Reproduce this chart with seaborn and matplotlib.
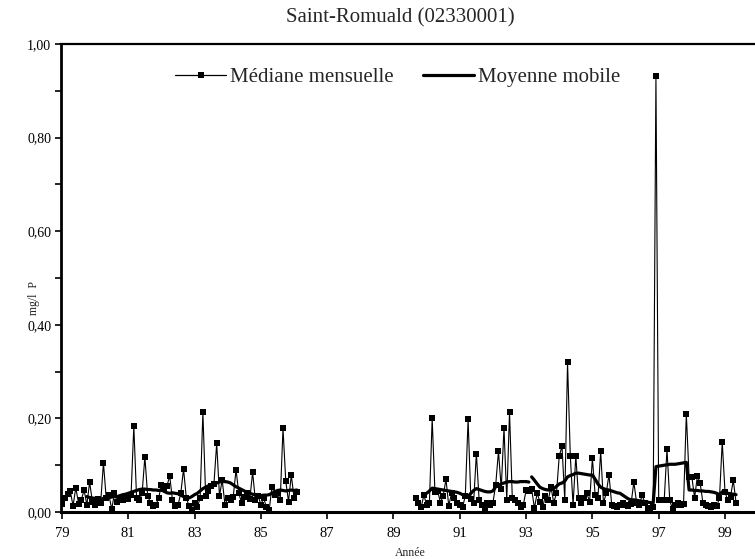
import numpy as np
import pandas as pd
import matplotlib
matplotlib.use("Agg")
import matplotlib.pyplot as plt
from matplotlib.lines import Line2D
from matplotlib.ticker import FuncFormatter, MultipleLocator
import seaborn as sns

# Monthly phosphorus medians (mg/l P), first sampling period: Jan 1979 onwards
start_a = 1979.0
median_a = [
    0.017, 0.030, 0.038, 0.045, 0.013, 0.052, 0.018, 0.026, 0.047, 0.015, 0.064, 0.022,
    0.015, 0.028, 0.020, 0.105, 0.030, 0.036, 0.006, 0.040, 0.022, 0.030, 0.025, 0.032,
    0.028, 0.036, 0.184, 0.030, 0.025, 0.040, 0.118, 0.035, 0.020, 0.012, 0.015, 0.030,
    0.058, 0.050, 0.056, 0.077, 0.025, 0.012, 0.015, 0.040, 0.092, 0.030, 0.012, 0.005,
    0.020, 0.010, 0.030, 0.213, 0.035, 0.045, 0.055, 0.060, 0.147, 0.035, 0.068, 0.015,
    0.030, 0.025, 0.033, 0.090, 0.040, 0.020, 0.032, 0.040, 0.028, 0.085, 0.025, 0.035,
    0.015, 0.030, 0.010, 0.004, 0.054, 0.036, 0.040, 0.026, 0.179, 0.066, 0.022, 0.079,
    0.030, 0.043,
]
# Moving average for the first period, starting Oct 1979
ma_start_a = 1979.75
moving_a = [
    0.033, 0.031, 0.030,
    0.029, 0.028, 0.027, 0.029, 0.030, 0.031, 0.032, 0.033, 0.033, 0.035, 0.037, 0.038,
    0.040, 0.042, 0.044, 0.046, 0.048, 0.049, 0.049, 0.048, 0.048, 0.047, 0.047, 0.046,
    0.047, 0.044, 0.041, 0.040, 0.041, 0.040, 0.039, 0.036, 0.033, 0.031, 0.030, 0.033,
    0.037, 0.040, 0.045, 0.050, 0.053, 0.056, 0.058, 0.060, 0.062, 0.064, 0.065, 0.065,
    0.064, 0.062, 0.058, 0.054, 0.051, 0.048, 0.045, 0.042, 0.040, 0.038, 0.036, 0.036,
    0.035, 0.036, 0.036, 0.037, 0.040, 0.043, 0.046, 0.047, 0.046, 0.045, 0.046, 0.047,
    0.046, 0.047,
]

# Second sampling period: Sept 1989 onwards
start_b = 1989.0 + 8 / 12
median_b = [
    0.030, 0.020, 0.010, 0.036, 0.015, 0.020, 0.200, 0.043, 0.045, 0.020, 0.035, 0.070,
    0.013, 0.040, 0.030, 0.020, 0.015, 0.010, 0.035, 0.198, 0.028, 0.020, 0.125, 0.025,
    0.015, 0.008, 0.020, 0.015, 0.020, 0.058, 0.130, 0.050, 0.180, 0.026, 0.214, 0.030,
    0.025, 0.020, 0.010, 0.015, 0.047, 0.045, 0.050, 0.008, 0.040, 0.022, 0.010, 0.035,
    0.025, 0.054, 0.020, 0.040, 0.120, 0.140, 0.026, 0.320, 0.120, 0.015, 0.120, 0.030,
    0.020, 0.030, 0.040, 0.022, 0.115, 0.036, 0.030, 0.130, 0.019, 0.040, 0.080, 0.015,
    0.012, 0.010, 0.015, 0.020, 0.015, 0.012, 0.018, 0.064, 0.020, 0.015, 0.036, 0.020,
    0.008, 0.005, 0.010, 0.932, 0.026, 0.025, 0.026, 0.134, 0.025, 0.006, 0.015, 0.020,
    0.015, 0.018, 0.210, 0.075, 0.075, 0.030, 0.077, 0.062, 0.020, 0.015, 0.012, 0.010,
    0.015, 0.012, 0.030, 0.150, 0.043, 0.025, 0.033, 0.068, 0.020,
]
# Moving average, Jan 1990 - Jun 1993
ma_start_b1 = 1990.0
moving_b1 = [
    0.040, 0.045, 0.051, 0.050, 0.049, 0.048, 0.047, 0.046, 0.045, 0.044, 0.043, 0.042,
    0.040, 0.037, 0.034, 0.033, 0.040, 0.046, 0.050, 0.048, 0.046, 0.044, 0.043, 0.043,
    0.045, 0.054, 0.057, 0.060, 0.062, 0.064, 0.065, 0.065, 0.064, 0.064, 0.065, 0.065,
    0.065, 0.064,
]
# Moving average, Mar 1993 onwards
ma_start_b2 = 1993.0 + 2 / 12
moving_b2 = [
    0.075, 0.068, 0.060, 0.053, 0.050, 0.048, 0.047, 0.047, 0.050, 0.055, 0.060, 0.062,
    0.066, 0.075, 0.078, 0.080, 0.083, 0.083, 0.082, 0.081, 0.080, 0.079, 0.079, 0.070,
    0.060, 0.053, 0.050, 0.048, 0.047, 0.045, 0.043, 0.041, 0.040, 0.036, 0.032, 0.028,
    0.026, 0.026, 0.025, 0.024, 0.023, 0.022, 0.021, 0.020, 0.019, 0.097, 0.098, 0.099,
    0.100, 0.101, 0.102, 0.102, 0.102, 0.103, 0.104, 0.105, 0.106, 0.047, 0.047, 0.046,
    0.046, 0.045, 0.045, 0.044, 0.044, 0.043, 0.042, 0.040, 0.037, 0.043, 0.042, 0.040,
    0.039, 0.038, 0.037,
]

x_ticks = [79, 81, 83, 85, 87, 89, 91, 93, 95, 97, 99]


def monthly(start, values):
    """Decimal years (two-digit) for a run of consecutive months."""
    yrs = start + np.arange(len(values)) / 12.0 - 1900
    return pd.DataFrame({"annee": yrs, "valeur": values})


sns.set_theme(style="white")
plt.rcParams["font.family"] = ["Liberation Serif", "DejaVu Serif"]

fig = plt.figure(figsize=(7.55, 5.59), dpi=100)
ax = fig.add_axes([61 / 755, 47 / 559, 694 / 755, 468 / 559])

median_kw = dict(color="black", linewidth=0.8, marker="s", markersize=4.2,
                 markeredgewidth=0, markerfacecolor="black", estimator=None)
mobile_kw = dict(color="black", linewidth=2.3, estimator=None)

for start, vals in [(start_a, median_a), (start_b, median_b)]:
    df = monthly(start, vals)
    sns.lineplot(data=df, x="annee", y="valeur", ax=ax, **median_kw)

for start, vals in [(ma_start_a, moving_a), (ma_start_b1, moving_b1), (ma_start_b2, moving_b2)]:
    df = monthly(start, vals)
    sns.lineplot(data=df, x="annee", y="valeur", ax=ax, **mobile_kw)

ax.set_xlim(78.97, 99.905)
ax.set_ylim(0, 1.0)
ax.set_xticks(x_ticks)
ax.set_xticklabels([str(t) for t in x_ticks])
ax.yaxis.set_major_locator(MultipleLocator(0.2))
ax.yaxis.set_minor_locator(MultipleLocator(0.1))
ax.yaxis.set_major_formatter(FuncFormatter(lambda v, p: f"{v:.2f}".replace(".", ",")))
ax.tick_params(axis="both", which="both", direction="out", length=4, width=1.2,
               color="black", labelsize=10, pad=3, labelcolor="black")
ax.tick_params(axis="x", which="major", bottom=True, length=5, pad=6, labelsize=10.5)
ax.tick_params(axis="y", which="both", left=True)

for side in ["left", "bottom", "top"]:
    ax.spines[side].set_visible(True)
    ax.spines[side].set_color("black")
ax.spines["left"].set_linewidth(2.0)
ax.spines["bottom"].set_linewidth(2.2)
ax.spines["top"].set_linewidth(1.6)
ax.spines["right"].set_visible(False)

ax.set_xlabel("")
ax.set_ylabel("")
fig.text(410 / 755, 1 - 553 / 559, "Année", ha="center", va="center", fontsize=8.5)
fig.text(34 / 755, 1 - 298 / 559, "mg/l  P", ha="center", va="center",
         rotation=90, fontsize=8.5)
fig.text(400 / 755, 1 - 18 / 559, "Saint-Romuald (02330001)", ha="center",
         va="center", fontsize=15)

handles = [
    Line2D([0, 1], [0, 0], color="black", linewidth=0.9, marker="s", markersize=4,
           markeredgewidth=0),
    Line2D([0, 1], [0, 0], color="black", linewidth=2.3),
]
leg = ax.legend(handles, ["Médiane mensuelle", "Moyenne mobile"], ncol=2,
                loc="center left", bbox_to_anchor=(165 / 755, 1 - 77 / 559),
                bbox_transform=fig.transFigure, frameon=False, fontsize=15,
                borderpad=0, numpoints=1, handlelength=2.45, handletextpad=0.18,
                columnspacing=1.4)

fig.savefig("out.png", dpi=100)
